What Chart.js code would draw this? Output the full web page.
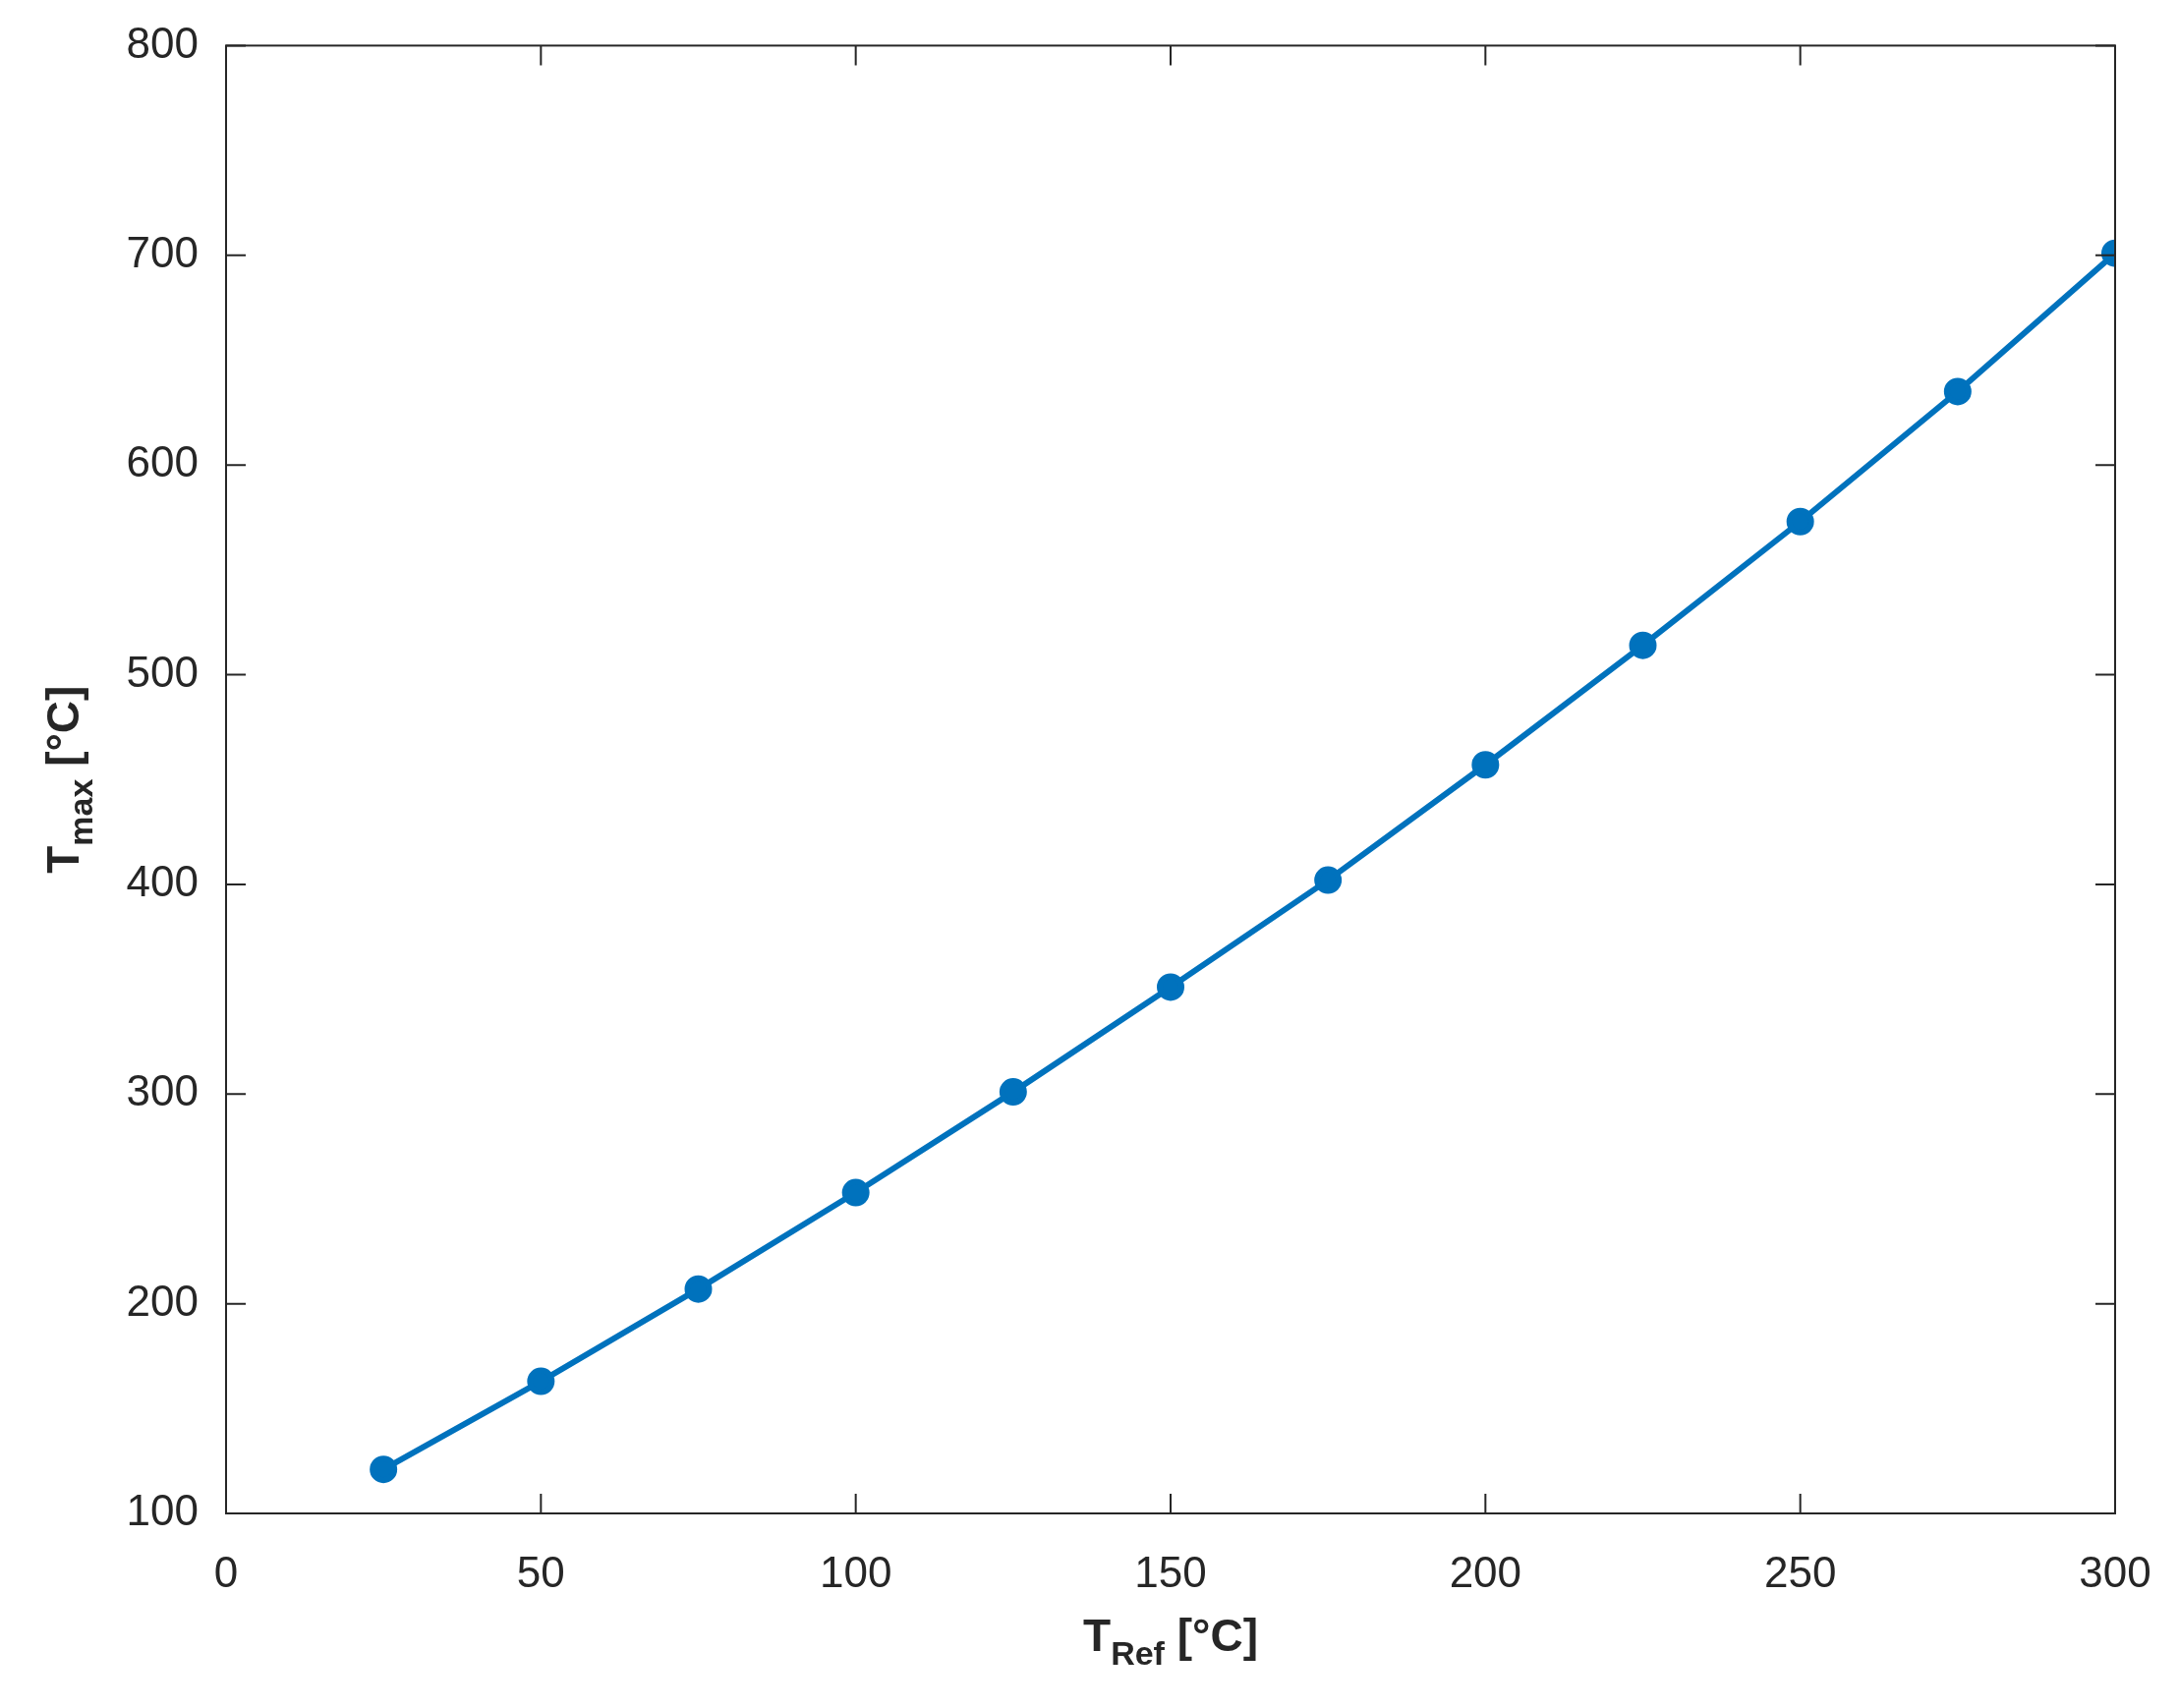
<!DOCTYPE html>
<html>
<head>
<meta charset="utf-8">
<script src="https://cdn.jsdelivr.net/npm/chart.js@4"></script>
<style>
  html, body { margin: 0; padding: 0; background: #fff; }
  #wrap { width: 2217px; height: 1738px; }
</style>
</head>
<body>
<div id="wrap"><canvas id="chart" width="2217" height="1738"></canvas></div>
<script>
// data
const tRef = [25, 50, 75, 100, 125, 150, 175, 200, 225, 250, 275, 300];
const tMax = [121, 163, 207, 253, 301, 351, 402, 457, 514, 573, 635, 701];
const xTicks = [0, 50, 100, 150, 200, 250, 300];
const yTicks = [100, 200, 300, 400, 500, 600, 700, 800];

const ink = '#262626';
const blue = '#0072BD';
const font = "'Liberation Sans', Arial, sans-serif";

// draws box, inward ticks on all four sides and the subscripted axis titles
const matlabFrame = {
  id: 'matlabFrame',
  afterDraw(chart) {
    const c = chart.ctx, a = chart.chartArea;
    const xs = chart.scales.x, ys = chart.scales.y;
    c.save();
    c.strokeStyle = ink;
    c.lineWidth = 2;
    c.strokeRect(a.left, a.top, a.right - a.left, a.bottom - a.top);
    const tl = 20;
    c.beginPath();
    xTicks.forEach(v => {
      const px = xs.getPixelForValue(v);
      c.moveTo(px, a.bottom); c.lineTo(px, a.bottom - tl);
      c.moveTo(px, a.top); c.lineTo(px, a.top + tl);
    });
    yTicks.forEach(v => {
      const py = ys.getPixelForValue(v);
      c.moveTo(a.left, py); c.lineTo(a.left + tl, py);
      c.moveTo(a.right, py); c.lineTo(a.right - tl, py);
    });
    c.stroke();

    function subTitle(main, sub, tail) {
      c.font = 'bold 46px ' + font;
      const w1 = c.measureText(main).width;
      const w3 = c.measureText(tail).width;
      c.font = 'bold 34px ' + font;
      const w2 = c.measureText(sub).width;
      let x = -(w1 + w2 + w3) / 2;
      c.fillStyle = ink;
      c.textBaseline = 'alphabetic';
      c.textAlign = 'left';
      c.font = 'bold 46px ' + font;
      c.fillText(main, x, 0); x += w1;
      c.font = 'bold 34px ' + font;
      c.fillText(sub, x, 14); x += w2;
      c.font = 'bold 46px ' + font;
      c.fillText(tail, x, 0);
    }
    c.save();
    c.translate((a.left + a.right) / 2, 1680);
    subTitle('T', 'Ref', ' [°C]');
    c.restore();
    c.save();
    c.translate(80, (a.top + a.bottom) / 2);
    c.rotate(-Math.PI / 2);
    subTitle('T', 'max', ' [°C]');
    c.restore();
    c.restore();
  }
};

const ctx = document.getElementById('chart').getContext('2d');
const myChart = new Chart(ctx, {
  type: 'line',
  data: {
    datasets: [{
      data: tRef.map((x, i) => ({ x: x, y: tMax[i] })),
      borderColor: blue,
      backgroundColor: blue,
      borderWidth: 6,
      pointRadius: 11,
      pointHoverRadius: 11,
      tension: 0
    }]
  },
  options: {
    responsive: false,
    animation: false,
    layout: { padding: { top: 44, right: 65, left: 0, bottom: 0 } },
    plugins: { legend: { display: false }, tooltip: { enabled: false } },
    scales: {
      x: {
        type: 'linear', min: 0, max: 300,
        afterBuildTicks: s => { s.ticks = xTicks.map(v => ({ value: v })); },
        afterFit: s => { s.height = 198; },
        grid: { display: false },
        border: { display: false },
        ticks: { color: ink, font: { family: font, size: 44 }, padding: 28, maxRotation: 0 }
      },
      y: {
        type: 'linear', min: 100, max: 800,
        afterBuildTicks: s => { s.ticks = yTicks.map(v => ({ value: v })); },
        afterFit: s => { s.width = 230; },
        grid: { display: false },
        border: { display: false },
        ticks: { color: ink, font: { family: font, size: 44 }, padding: 20 }
      }
    }
  },
  plugins: [matlabFrame]
});
</script>
</body>
</html>
